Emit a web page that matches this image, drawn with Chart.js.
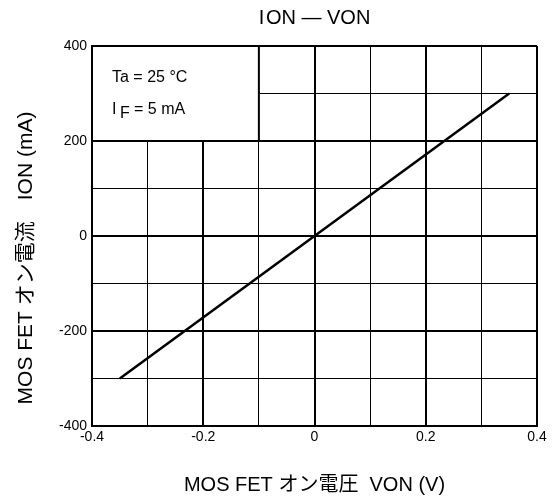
<!DOCTYPE html>
<html>
<head>
<meta charset="utf-8">
<script src="https://cdn.jsdelivr.net/npm/chart.js@4"></script>
<style>
  html, body { margin: 0; padding: 0; background: #fff; }
  #wrap { width: 557px; height: 502px; }
</style>
</head>
<body>
<div id="wrap"><canvas id="chart" width="557" height="502"></canvas></div>
<script>
// V_ON (V) vs I_ON (mA)
const vOn = [-0.35, 0, 0.35];
const iOn = [-300, 0, 300];

const xTicks = [-0.4, -0.3, -0.2, -0.1, 0, 0.1, 0.2, 0.3, 0.4];
const xLabels = ["-0.4", "", "-0.2", "", "0", "", "0.2", "", "0.4"];
const yTicks = [-400, -300, -200, -100, 0, 100, 200, 300, 400];
const yLabels = ["-400", "", "-200", "", "0", "", "200", "", "400"];

const FONT = "'Liberation Sans', Arial, 'Noto Sans CJK JP', sans-serif";

function isMajor(labels, idx) {
    return labels[idx] !== "";
}

// white box with the test conditions in the upper left corner
const conditionBox = {
    id: "conditionBox",
    beforeDatasetsDraw(chart) {
        const ctx = chart.ctx;
        const x = chart.scales.x, y = chart.scales.y;
        const l = x.getPixelForValue(-0.4), r = x.getPixelForValue(-0.1);
        const t = y.getPixelForValue(400), b = y.getPixelForValue(200);
        ctx.save();
        ctx.fillStyle = "#fff";
        ctx.fillRect(l + 1, t + 1, r - l - 1, b - t - 1);
        ctx.strokeStyle = "#000";
        ctx.lineWidth = 2;
        ctx.beginPath();
        ctx.moveTo(r, t);
        ctx.lineTo(r, b);
        ctx.lineTo(l, b);
        ctx.stroke();

        ctx.fillStyle = "#000";
        ctx.textBaseline = "middle";
        ctx.font = "16px " + FONT;
        ctx.fillText("Ta = 25 \u00B0C", l + 20, t + 32);
        const ty = t + 64;
        ctx.fillText("I", l + 20, ty);
        ctx.fillText("F", l + 28, ty + 4);
        ctx.fillText("= 5 mA", l + 42, ty);
        ctx.restore();
    }
};

// chart title and the rotated y axis title
const extraTitles = {
    id: "extraTitles",
    afterDraw(chart) {
        const ctx = chart.ctx;
        const a = chart.chartArea;
        ctx.save();
        ctx.fillStyle = "#000";
        ctx.textAlign = "center";
        ctx.textBaseline = "middle";
        ctx.font = "20px " + FONT;
        ctx.fillText("I\u200AON \u2014 VON", (a.left + a.right) / 2, 18);

        ctx.font = "21px " + FONT;
        ctx.translate(26, (a.top + a.bottom) / 2 + 22);
        ctx.rotate(-Math.PI / 2);
        ctx.fillText("MOS FET オン電流　ION (mA)", 0, 0);
        ctx.restore();
    }
};

const ctx = document.getElementById("chart").getContext("2d");
new Chart(ctx, {
    type: "scatter",
    data: {
        datasets: [{
            data: vOn.map((v, i) => ({ x: v, y: iOn[i] })),
            showLine: true,
            borderColor: "#000",
            borderWidth: 2.5,
            pointRadius: 0,
            tension: 0
        }]
    },
    options: {
        responsive: false,
        animation: false,
        devicePixelRatio: 1,
        layout: { padding: { top: 46, right: 20, bottom: 0, left: 0 } },
        plugins: {
            legend: { display: false },
            tooltip: { enabled: false }
        },
        scales: {
            x: {
                type: "linear",
                min: -0.4,
                max: 0.4,
                afterBuildTicks: s => { s.ticks = xTicks.map(v => ({ value: v })); },
                afterFit: s => { s.height = 76; },
                ticks: {
                    autoSkip: false,
                    maxRotation: 0,
                    padding: 3,
                    color: "#000",
                    font: { size: 14, family: FONT },
                    callback: (v, i) => xLabels[i]
                },
                grid: {
                    color: "#000",
                    drawTicks: false,
                    lineWidth: c => isMajor(xLabels, c.index) ? 2 : 1
                },
                border: { color: "#000", width: 2 },
                title: {
                    display: true,
                    text: "MOS FET オン電圧  VON (V)",
                    color: "#000",
                    font: { size: 20, family: FONT },
                    padding: { top: 0, bottom: 5 }
                }
            },
            y: {
                type: "linear",
                min: -400,
                max: 400,
                afterBuildTicks: s => { s.ticks = yTicks.map(v => ({ value: v })); },
                afterFit: s => { s.width = 92; },
                ticks: {
                    autoSkip: false,
                    padding: 5,
                    color: "#000",
                    font: { size: 14, family: FONT },
                    callback: (v, i) => yLabels[i]
                },
                grid: {
                    color: "#000",
                    drawTicks: false,
                    lineWidth: c => isMajor(yLabels, c.index) ? 2 : 1
                },
                border: { color: "#000", width: 2 }
            }
        }
    },
    plugins: [conditionBox, extraTitles]
});
</script>
</body>
</html>
